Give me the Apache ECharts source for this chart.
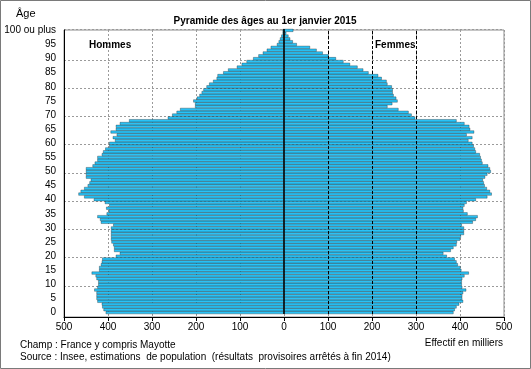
<!DOCTYPE html>
<html><head><meta charset="utf-8">
<script src="https://cdn.jsdelivr.net/npm/echarts@6/dist/echarts.min.js"></script>
<style>html,body{margin:0;padding:0;background:#fff}#c{width:531px;height:369px}</style>
</head><body><div id="c"></div>
<script>
const ages = ['0','1','2','3','4','5','6','7','8','9','10','11','12','13','14','15','16','17','18','19',
'20','21','22','23','24','25','26','27','28','29','30','31','32','33','34','35','36','37','38','39',
'40','41','42','43','44','45','46','47','48','49','50','51','52','53','54','55','56','57','58','59',
'60','61','62','63','64','65','66','67','68','69','70','71','72','73','74','75','76','77','78','79',
'80','81','82','83','84','85','86','87','88','89','90','91','92','93','94','95','96','97','98','99','100 ou plus'];

// Effectifs en milliers, âge 0 à 100 ou plus
const hommes = [405,410,413,414,424,426,426,426,431,424,
422,422,426,428,437,420,420,416,414,413,
382,373,386,386,388,392,393,393,393,393,
393,388,416,418,424,403,398,404,397,407,
432,454,467,462,454,446,442,439,450,450,
450,450,435,430,424,424,414,411,406,397,
397,384,389,380,394,382,382,373,352,264,
254,244,236,202,202,206,198,192,187,183,
176,170,161,153,151,138,127,107,96,85,
70,58,48,39,30,16,12,9,6,3,3];

const femmes = [385,388,392,398,407,405,405,407,414,405,
404,404,405,410,420,403,401,395,392,388,
370,362,379,385,392,393,400,402,409,409,
409,404,429,436,440,417,408,407,410,415,
436,462,472,468,461,456,454,452,457,462,
470,468,464,451,449,447,445,436,434,431,
428,419,428,415,432,423,421,410,392,298,
290,283,260,235,246,258,255,249,247,247,
245,235,233,222,214,192,180,167,150,135,
118,101,88,74,59,29,20,14,10,5,21];

const xTicks = [-500,-400,-300,-200,-100,0,100,200,300,400,500];

const BLUE = '#2AC2F6';
const FONT = 'Liberation Sans, Arial, sans-serif';
const chart = echarts.init(document.getElementById('c'), null, {renderer:'canvas'});
chart.setOption({
  animation:false,
  textStyle:{fontFamily:FONT},
  grid:[
    {left:64,right:27,top:30,bottom:52,show:true,borderColor:'#8c8c8c',borderWidth:1,backgroundColor:'transparent'},
    {left:64,right:27,top:29,bottom:55}
  ],
  xAxis:[
    {gridIndex:0,type:'value',min:xTicks[0],max:xTicks[xTicks.length-1],interval:100,
     axisLine:{show:true,onZero:false,lineStyle:{color:'#000',width:1}},
     axisTick:{show:true,length:4,lineStyle:{color:'#000'}},
     axisLabel:{fontSize:10,color:'#000',margin:5,fontFamily:FONT,formatter:v=>String(Math.abs(v))},
     splitLine:{show:true,lineStyle:{color:'#9a9a9a',type:[2,2],width:1}}},
    {gridIndex:1,type:'value',min:xTicks[0],max:xTicks[xTicks.length-1],show:false}
  ],
  yAxis:[
    {gridIndex:0,type:'value',min:0,max:1,
     axisLine:{show:true,onZero:false,lineStyle:{color:'#000',width:1}},
     axisTick:{show:false},axisLabel:{show:false},splitLine:{show:false}},
    {gridIndex:1,type:'category',data:ages,
     axisLine:{show:false},axisTick:{show:false},
     axisLabel:{interval:4,fontSize:10,color:'#000',margin:8,fontFamily:FONT},
     splitLine:{show:true,interval:(i)=> i%10===0 && i>0 && i<100,
       lineStyle:{color:'#9a9a9a',type:[2,2],width:1}}}
  ],
  series:[
    {type:'line',xAxisIndex:1,yAxisIndex:1,data:[],z:1,silent:true,
     markLine:{silent:true,symbol:'none',label:{show:false},
       lineStyle:{color:'#000',type:[3,2],width:1},
       data:[{xAxis:100},{xAxis:200},{xAxis:300}]}},
    {name:'Hommes',type:'bar',xAxisIndex:1,yAxisIndex:1,stack:'p',
     data:hommes.map(v=>-v),barCategoryGap:'0%',z:2,silent:true,
     itemStyle:{color:BLUE,borderColor:'#000',borderWidth:0.3}},
    {name:'Femmes',type:'bar',xAxisIndex:1,yAxisIndex:1,stack:'p',
     data:femmes,barCategoryGap:'0%',z:2,silent:true,
     itemStyle:{color:BLUE,borderColor:'#000',borderWidth:0.3}},
    {type:'line',xAxisIndex:1,yAxisIndex:1,data:[],z:5,silent:true,
     markLine:{silent:true,symbol:'none',label:{show:false},
       lineStyle:{color:'#000',type:'solid',width:1.5},
       data:[{xAxis:0}]}}
  ],
  graphic:[
    {type:'rect',shape:{x:0.5,y:0.5,width:530,height:368},style:{fill:'none',stroke:'#7a7a7a',lineWidth:1},silent:true},
    {type:'text',x:16,y:14,style:{text:'Âge',font:'11px '+FONT,fill:'#000',textVerticalAlign:'middle'}},
    {type:'text',x:265,y:21.5,style:{text:'Pyramide des âges au 1er janvier 2015',font:'bold 10px '+FONT,fill:'#000',textAlign:'center',textVerticalAlign:'middle'}},
    {type:'text',x:89,y:45,style:{text:'Hommes',font:'bold 10px '+FONT,fill:'#000',textVerticalAlign:'middle'}},
    {type:'text',x:375,y:45,style:{text:'Femmes',font:'bold 10px '+FONT,fill:'#000',textVerticalAlign:'middle'}},
    {type:'text',x:503,y:343,style:{text:'Effectif en milliers',font:'10px '+FONT,fill:'#000',textAlign:'right',textVerticalAlign:'middle'}},
    {type:'text',x:20,y:345,style:{text:'Champ : France y compris Mayotte',font:'10px '+FONT,fill:'#000',textVerticalAlign:'middle'}},
    {type:'text',x:20,y:357,style:{text:'Source : Insee, estimations  de population  (résultats  provisoires arrêtés à fin 2014)',font:'10px '+FONT,fill:'#000',textVerticalAlign:'middle'}}
  ]
});
</script></body></html>
